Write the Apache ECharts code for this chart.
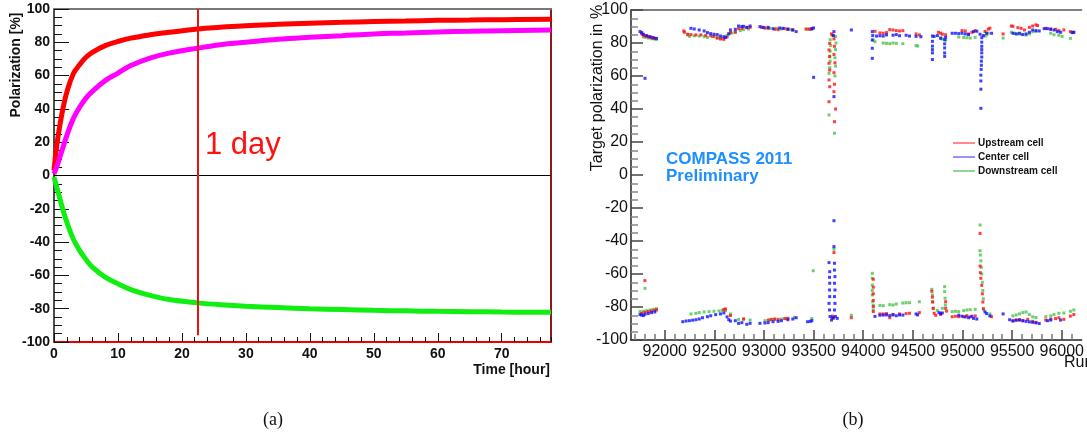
<!DOCTYPE html>
<html><head><meta charset="utf-8">
<script src="https://cdn.jsdelivr.net/npm/echarts@6/dist/echarts.min.js"></script>
<style>html,body{margin:0;padding:0;background:#fff}#c{width:1087px;height:436px}</style>
</head><body><div id="c"></div>
<script>
// ---------- panel (a): polarization build-up ----------
const hours      = [0, 0.5, 1, 1.5, 2, 3, 4, 5, 6, 8, 10, 12, 15, 18, 22.5, 26, 30, 35, 40, 45, 50, 55, 60, 65, 70, 77.7];
const polRed     = [3, 20, 32, 42, 50, 61, 66.5, 71, 74, 78, 80.5, 82.5, 84.5, 86, 88, 89, 90, 90.8, 91.5, 92, 92.5, 92.8, 93.2, 93.4, 93.6, 93.8];
const polMagenta = [1, 6, 12, 18, 24, 34, 41, 46.5, 50.5, 57, 61.5, 66, 70.5, 73.5, 76.5, 78.5, 80, 81.8, 83, 84, 85, 85.6, 86.2, 86.6, 87, 87.4];
const polGreen   = [-1, -8, -15, -22, -28, -38, -45, -50.5, -55, -61, -65, -68.5, -72, -74.5, -76.5, -77.6, -78.5, -79.3, -80, -80.5, -81, -81.3, -81.6, -81.8, -82, -82.2];
const dayHour = 22.5;

// ---------- panel (b): target polarization vs run ----------
const runTicks = [92000, 92500, 93000, 93500, 94000, 94500, 95000, 95500, 96000];
const minorRunTicks = [91700,91800,91900,92100,92200,92300,92400,92600,92700,92800,92900,93100,93200,93300,93400,93600,93700,93800,93900,94100,94200,94300,94400,94600,94700,94800,94900,95100,95200,95300,95400,95600,95700,95800,95900,96100];

const upstreamTop = [[91768,85.5],[91784,84.9],[91801,84.4],[91818,84.2],[91834,83.8],[91851,83.6],[91867,83.4],[91884,83.0],[91900,82.8],
[92192,87.3],[92198,86.5],[92231,85.3],[92264,85.1],[92314,84.9],[92364,84.9],[92413,84.6],[92463,84.4],[92496,84.0],[92529,83.2],[92562,82.4],[92595,82.2],[92628,83.6],[92662,86.3],[92711,86.5],[92744,88.7],[92777,88.9],[92827,89.3],[92860,89.5],
[92976,89.5],[93009,89.1],[93042,88.9],[93108,88.3],[93142,88.1],[93208,88.7],[93241,88.5],[93290,87.9],
[93423,88.5],[93456,88.5],[93482,88.5],
[93688,84.8],[93680,85.5],[93662,79.8],[93655,75.8],[93662,71.7],[93655,67.7],[93662,63.6],[93655,57.6],[93662,53.5],[93655,44.4],[93705,82.5],[93710,78],[93705,73],[93715,68],[93705,62],[93710,55],[93705,50.5],[93710,32.3],[93721,40],
[94118,87.1],[94168,86.1],[94201,85.9],[94234,86.3],[94267,88.1],[94300,87.9],[94333,87.5],[94366,87.3],[94399,87.5],[94532,85.5],[94565,84.9],
[94757,86.5],[94780,86.0],[94797,85.3],[94830,85.0],
[94995,87.5],[95028,87.3],[95061,85.5],[95094,86.5],[95128,87.5],[95227,87.0],[95260,88.4],[95276,89.0],
[95409,85.5],[95492,90.3],[95508,90.1],[95558,89.3],[95591,88.9],[95624,87.9],[95674,89.5],[95707,90.3],[95740,91.0],[95756,90.6],[95839,88.9],[95889,88.5],[95938,88.3],[95971,87.5],[96021,87.9],[96087,86.9],[96120,86.5]];

const centerTop = [[91751,86.9],[91768,86.3],[91784,85.3],[91801,58.6],[91818,84.4],[91851,83.8],[91884,83.2],[91917,82.8],
[92264,88.9],[92297,88.5],[92347,87.9],[92397,87.3],[92430,86.3],[92463,85.7],[92496,85.3],[92529,85.1],[92562,84.2],[92595,83.8],[92612,83.4],[92645,85.5],[92662,87.9],[92711,88.3],[92744,90.3],[92777,90.0],[92794,90.1],[92827,89.5],[92860,90.3],
[92959,89.9],[92992,89.5],[93042,89.5],[93091,88.7],[93158,89.1],[93191,88.9],[93241,88.3],[93290,87.9],[93324,86.9],
[93482,88.7],[93499,89.1],[93500,59.2],
[93705,86.9],[93705,47.5],[93700,84.5],
[93880,87.9],
[94091,86.9],[94091,81.8],[94091,76.8],[94091,70.7],[94095,84.5],[94134,84.2],[94168,84.4],[94201,84.2],[94234,84.9],[94300,84.7],[94333,85.1],[94366,84.4],[94432,84.7],[94466,84.2],[94532,84.0],[94581,83.8],
[94697,84.2],[94697,81],[94697,78.1],[94697,76],[94697,74],[94697,70],[94714,84],[94747,84.5],[94780,82.8],[94820,82],[94820,79.5],[94820,77],[94820,74],[94820,71.9],[94830,83.4],
[94896,85.9],[94929,85.9],[94962,85.7],[94995,85.9],[95028,85.5],[95061,85.1],[95111,86.9],[95144,87.1],[95177,85.3],[95194,83.2],[95194,80.5],[95194,78],[95194,76],[95194,74],[95194,71.5],[95190,69],[95190,66.5],[95188,64],[95185,60.5],[95185,57],[95185,52],[95185,40.4],[95210,84.5],[95243,85.9],[95293,85.9],
[95508,85.9],[95541,85.5],[95574,85.9],[95608,85.1],[95641,85.5],[95674,86.5],[95707,87.9],[95740,87.5],[95773,87.3],[95823,88.7],[95856,88.7],[95889,88.3],[95922,87.9],[95955,86.9],[95988,86.5],[96104,86.3],[96121,86.5]];

const downstreamTop = [[91784,83.8],[91801,83.4],[91834,83.0],[91867,82.6],[91900,82.4],[91917,82.2],
[92231,84.9],[92248,84.0],[92297,84.4],[92347,84.2],[92397,83.8],[92430,83.4],[92480,83.8],[92529,82.8],[92562,83.0],[92595,82.8],[92628,84.6],[92645,85.8],[92678,86.0],[92711,86.8],[92761,87.5],[92794,88.1],[92844,88.5],
[93009,89.1],[93058,88.9],[93125,88.9],[93175,88.5],[93241,88.3],[93274,88.1],
[93439,88.3],[93466,88.1],
[93667,82],[93672,78.5],[93667,75],[93662,72],[93667,69],[93662,65],[93655,61.6],[93655,36.4],[93721,84],[93725,80],[93721,76],[93715,71],[93721,66],[93715,60],[93710,25.3],
[94101,81.8],[94118,80.8],[94201,80.0],[94234,79.8],[94267,79.6],[94300,80.0],[94333,79.8],[94399,79.6],[94532,78.4],[94548,78.2],
[94780,83.2],[94797,82.4],[94830,81.7],
[94962,83.6],[95012,83.4],[95045,83.2],[95078,83.0],[95128,83.4],[95227,84.2],[95243,84.9],[95260,86.0],
[95409,83.0],[95492,86.5],[95524,85.9],[95558,85.5],[95591,85.3],[95641,84.8],[95674,85.5],[95707,86.8],[95740,87.0],[95889,85.9],[95922,85.0],[95971,84.7],[96004,84.0],[96087,82.8]];

const upstreamBottom = [[91800,-64.0],[91768,-83.8],[91801,-83.2],[91834,-82.8],[91867,-82.4],[91900,-82.0],[91917,-81.8],
[92595,-81.5],[92612,-81.2],[92662,-85.2],
[92794,-87.3],[93042,-87.9],[93075,-87.5],[93108,-87.3],[93142,-87.5],[93208,-87.0],[93241,-86.8],
[93705,-47],[93690,-85.5],[93700,-86.5],
[93880,-86.5],
[94101,-63.2],[94101,-68],[94101,-72],[94101,-76],[94101,-79.8],[94101,-82.8],[94168,-84.2],[94201,-84.2],[94234,-84.0],[94267,-86.5],[94300,-84.5],[94366,-84.2],[94432,-84.0],[94466,-83.8],[94565,-83.4],
[94691,-70.5],[94697,-74],[94700,-77],[94705,-80.8],[94714,-83.8],[94730,-85.0],[94780,-84.5],[94830,-76.8],[94830,-80.8],[94840,-82.5],
[94896,-85.9],[94929,-85.6],[94962,-85.9],[95012,-85.9],[95045,-85.2],[95078,-86.0],[95128,-85.4],[95177,-35.4],[95177,-55.2],[95180,-59.2],[95185,-62.6],[95194,-66.9],[95200,-72],[95205,-77],[95210,-81],[95293,-85.9],
[95508,-88.3],[95541,-87.9],[95574,-87.7],[95608,-88.3],[95657,-87.5],[95707,-88.7],[95740,-89.3],[95839,-87.9],[95889,-87.3],[95938,-87.0],[95971,-86.5],[96021,-87.5],[96087,-85.5],[96121,-84.6]];

const centerBottom = [[91751,-84.6],[91768,-84.9],[91784,-85.2],[91801,-84.4],[91834,-84.0],[91867,-83.4],[91900,-83.0],
[92182,-88.9],[92215,-88.5],[92248,-88.3],[92281,-88.0],[92314,-87.7],[92347,-87.3],[92380,-86.5],[92430,-85.9],[92463,-85.3],[92513,-84.6],[92562,-84.2],[92595,-83.6],[92628,-86.0],[92645,-87.7],[92662,-88.5],
[92711,-88.3],[92744,-89.9],[92777,-89.5],[92827,-90.5],[92860,-89.9],
[92959,-89.9],[93009,-89.7],[93042,-89.5],[93091,-88.9],[93142,-88.7],[93175,-88.3],[93241,-87.7],[93290,-87.3],[93324,-86.5],
[93439,-88.9],[93466,-88.7],[93482,-88.3],
[93705,-27.7],[93705,-43.4],[93655,-53.1],[93710,-53.5],[93662,-58.6],[93710,-57.6],[93660,-62],[93715,-61.6],[93662,-65.6],[93710,-65.6],[93660,-69.7],[93715,-69.7],[93662,-73.7],[93710,-73.7],[93655,-77.8],[93715,-77.8],[93660,-81.8],[93710,-81.8],[93665,-85.8],[93720,-85.8],[93680,-87.9],[93690,-86.5],[93738,-86.9],
[94118,-85.7],[94168,-85.0],[94201,-84.9],[94234,-84.8],[94267,-85.2],[94300,-84.8],[94333,-85.3],[94366,-84.8],[94399,-84.9],[94532,-84.2],[94548,-84.8],
[94763,-83.4],[94780,-84.0],[94797,-83.6],
[94962,-85.0],[94995,-85.6],[95028,-86.0],[95061,-86.5],[95094,-85.6],[95111,-86.9],[95144,-87.3],[95227,-83.0],[95243,-84.0],[95276,-85.4],
[95409,-84.2],[95475,-87.7],[95508,-88.5],[95541,-88.0],[95574,-87.9],[95608,-88.3],[95641,-88.7],[95674,-89.0],[95707,-89.3],[95740,-89.6],[95773,-90.0],[95856,-88.3],[95889,-87.9],[95988,-87.9]];

const downstreamBottom = [[91801,-68.7],[91751,-82.8],[91784,-82.6],[91818,-82.2],[91851,-81.8],[91884,-81.4],[91917,-81.0],
[92264,-84.2],[92314,-83.8],[92347,-83.4],[92397,-83.0],[92446,-82.8],[92496,-82.6],[92546,-82.4],[92579,-82.0],[92612,-82.2],[92662,-84.2],
[92744,-87.5],[92794,-87.3],[92860,-87.9],
[93009,-88.3],[93058,-87.9],[93108,-87.5],[93175,-87.3],[93224,-87.1],[93307,-86.3],
[93482,-87.0],[93496,-58.0],
[93705,-45],[93700,-87.0],
[93880,-85.0],
[94091,-59.6],[94091,-62.6],[94091,-66.7],[94091,-70],[94091,-72.7],[94095,-76.8],[94101,-79],[94101,-81.8],[94168,-79.0],[94201,-79.2],[94267,-78.6],[94300,-78.8],[94333,-78.2],[94399,-77.6],[94432,-77.4],[94466,-77.4],[94565,-76.8],
[94691,-69.3],[94697,-72.7],[94697,-76.8],[94705,-80.8],[94747,-82.0],[94797,-80.8],[94820,-67.7],[94820,-70.7],[94824,-74.7],[94827,-78.8],
[94896,-82.8],[94929,-82.6],[94962,-82.8],[95012,-82.2],[95045,-81.8],[95078,-81.6],[95128,-81.4],[95177,-30.3],[95177,-45.9],[95180,-48.5],[95185,-52],[95190,-56],[95194,-60],[95200,-65],[95205,-70],[95210,-75],[95215,-81.8],[95276,-84.2],
[95508,-85.4],[95541,-84.8],[95574,-84.2],[95608,-83.4],[95641,-83.0],[95674,-84.6],[95707,-86.0],[95740,-86.4],[95839,-85.9],[95889,-85.4],[95922,-84.6],[95971,-83.8],[96021,-83.6],[96087,-82.6],[96121,-81.8]];

const cellNames = ['Upstream cell', 'Center cell', 'Downstream cell'];

// ---------- chart ----------
const FONT = "'Liberation Sans', Arial, Helvetica, sans-serif";
const chart = echarts.init(document.getElementById('c'), null, {renderer: 'canvas'});

function zip(xs, ys) { return xs.map((x, i) => [x, ys[i]]); }

const curveSeries = (name, ys, color, extra) => Object.assign({
  name, type: 'line', xAxisIndex: 0, yAxisIndex: 0, data: zip(hours, ys),
  smooth: 0.4, showSymbol: false, silent: true, z: 3,
  lineStyle: {color, width: 5, cap: 'butt'}
}, extra || {});

const scatterSeries = (name, data, color, z) => ({
  name, type: 'scatter', xAxisIndex: 3, yAxisIndex: 2, data,
  symbol: 'rect', symbolSize: 3, silent: true, z,
  itemStyle: {color}
});

// minor run ticks of panel (b), drawn as short segments through the axis scales
const minorTickLen = 3.6; // in polarization units (~6 px)
const minorTickSegments = minorRunTicks.map(r => [{coord: [r, -100]}, {coord: [r, -100 + minorTickLen]}]);

const option = {
  animation: false,
  backgroundColor: '#fff',
  grid: [
    {left: 54, top: 9, width: 497, height: 333},
    {left: 631, top: 10, width: 457, height: 330}
  ],
  xAxis: [
    {gridIndex: 0, type: 'value', position: 'bottom', min: 0, max: 77.7, interval: 10,
     axisLine: {onZero: false, lineStyle: {color: '#ee0000', width: 2}},
     axisTick: {inside: true, length: 9, lineStyle: {color: '#111', width: 1}},
     axisLabel: {margin: 5, color: '#111', fontFamily: FONT, fontWeight: 'bold', fontSize: 14, showMaxLabel: false},
     splitLine: {show: false}},
    {gridIndex: 0, type: 'value', position: 'bottom', min: 0, max: 77.7, interval: 2,
     axisLine: {show: false, onZero: false},
     axisTick: {inside: true, length: 5, lineStyle: {color: '#111', width: 1}},
     axisLabel: {show: false}, splitLine: {show: false}},
    {gridIndex: 0, type: 'value', position: 'top', min: 0, max: 77.7,
     axisLine: {onZero: false, lineStyle: {color: '#777', width: 2}},
     axisTick: {show: false}, axisLabel: {show: false}, splitLine: {show: false}},
    {gridIndex: 1, type: 'value', position: 'bottom', min: 91660, max: 96200,
     axisLine: {onZero: false, lineStyle: {color: '#222', width: 1.5}},
     axisTick: {show: true, inside: true, length: 10, customValues: runTicks, lineStyle: {color: '#444', width: 1.5}},
     axisLabel: {show: true, margin: 4, customValues: runTicks, color: '#111', fontFamily: FONT, fontSize: 16,
                 formatter: v => String(v)},
     splitLine: {show: false}},
    {gridIndex: 1, type: 'value', position: 'top', min: 91660, max: 96200,
     axisLine: {onZero: false, lineStyle: {color: '#555', width: 1.5}},
     axisTick: {show: false}, axisLabel: {show: false}, splitLine: {show: false}}
  ],
  yAxis: [
    {gridIndex: 0, type: 'value', position: 'left', min: -100, max: 100, interval: 20,
     axisLine: {onZero: false, lineStyle: {color: '#111', width: 1.5}},
     axisTick: {inside: true, length: 15, lineStyle: {color: '#111', width: 1}},
     minorTick: {show: true, splitNumber: 4, length: 8, lineStyle: {color: '#111', width: 1}},
     axisLabel: {margin: 4, color: '#111', fontFamily: FONT, fontWeight: 'bold', fontSize: 14},
     splitLine: {show: false}},
    {gridIndex: 0, type: 'value', position: 'right', min: -100, max: 100,
     axisLine: {onZero: false, lineStyle: {color: '#8b1a1a', width: 2}},
     axisTick: {show: false}, axisLabel: {show: false}, splitLine: {show: false}},
    {gridIndex: 1, type: 'value', position: 'left', min: -100, max: 100, interval: 20,
     axisLine: {onZero: false, lineStyle: {color: '#222', width: 1.5}},
     axisTick: {inside: true, length: 12, lineStyle: {color: '#444', width: 1.5}},
     minorTick: {show: true, splitNumber: 4, length: 7, lineStyle: {color: '#888', width: 1.5}},
     axisLabel: {margin: 3, color: '#111', fontFamily: FONT, fontSize: 16},
     splitLine: {show: false}}
  ],
  legend: {
    orient: 'vertical', left: 948, top: 133, itemWidth: 22, itemHeight: 2, itemGap: 4,
    icon: 'rect', selectedMode: false,
    textStyle: {fontFamily: FONT, fontWeight: 'bold', fontSize: 10, color: '#111', padding: [0, 0, 0, -2]},
    data: [
      {name: cellNames[0], itemStyle: {color: '#ff6a6a'}},
      {name: cellNames[1], itemStyle: {color: '#7a7aff'}},
      {name: cellNames[2], itemStyle: {color: '#74cc74'}}
    ]
  },
  series: [
    curveSeries('a_red', polRed, '#ff0000', {
      markLine: {
        silent: true, symbol: 'none', label: {show: false}, animation: false,
        data: [
          {yAxis: 0, lineStyle: {color: '#000', width: 1, type: 'solid'}},
          [{coord: [dayHour, 100], lineStyle: {color: '#ee1111', width: 2, type: 'solid'}}, {coord: [dayHour, -96]}]
        ]
      }
    }),
    curveSeries('a_magenta', polMagenta, '#ff00ff'),
    curveSeries('a_green', polGreen, '#11ee11'),
    {name: 'minor run ticks', type: 'scatter', xAxisIndex: 3, yAxisIndex: 2, data: [], silent: true,
     markLine: {silent: true, symbol: 'none', label: {show: false}, animation: false,
                lineStyle: {color: '#777', width: 1.5, type: 'solid'}, data: minorTickSegments}},
    scatterSeries(cellNames[2], downstreamTop.concat(downstreamBottom), '#4cc24c', 4),
    scatterSeries(cellNames[0], upstreamTop.concat(upstreamBottom), '#ff1010', 5),
    scatterSeries(cellNames[1], centerTop.concat(centerBottom), '#1010ff', 6)
  ],
  graphic: [
    {type: 'text', x: 16, y: 65, rotation: Math.PI / 2,
     style: {text: 'Polarization [%]', font: "bold 14px " + FONT, fill: '#111', align: 'center', verticalAlign: 'middle'}},
    {type: 'text', x: 550, y: 370,
     style: {text: 'Time [hour]', font: "bold 14px " + FONT, fill: '#111', align: 'right', verticalAlign: 'middle'}},
    {type: 'text', x: 205, y: 145, z: 10,
     style: {text: '1 day', font: "31px " + FONT, fill: '#ff1111', align: 'left', verticalAlign: 'middle'}},
    {type: 'text', x: 598, y: 88, rotation: Math.PI / 2,
     style: {text: 'Target polarization in %', font: "16px " + FONT, fill: '#111', align: 'center', verticalAlign: 'middle'}},
    {type: 'text', x: 1064, y: 363,
     style: {text: 'Run', font: "16px " + FONT, fill: '#111', align: 'left', verticalAlign: 'middle'}},
    {type: 'text', x: 666, y: 159,
     style: {text: 'COMPASS 2011', font: "bold 17px " + FONT, fill: '#1e8fff', align: 'left', verticalAlign: 'middle'}},
    {type: 'text', x: 666, y: 176,
     style: {text: 'Preliminary', font: "bold 17px " + FONT, fill: '#1e8fff', align: 'left', verticalAlign: 'middle'}},
    {type: 'text', x: 273, y: 420,
     style: {text: '(a)', font: "18px 'Liberation Serif', 'DejaVu Serif', serif", fill: '#111', align: 'center', verticalAlign: 'middle'}},
    {type: 'text', x: 853, y: 420,
     style: {text: '(b)', font: "18px 'Liberation Serif', 'DejaVu Serif', serif", fill: '#111', align: 'center', verticalAlign: 'middle'}}
  ]
};
chart.setOption(option);
</script>
</body></html>
